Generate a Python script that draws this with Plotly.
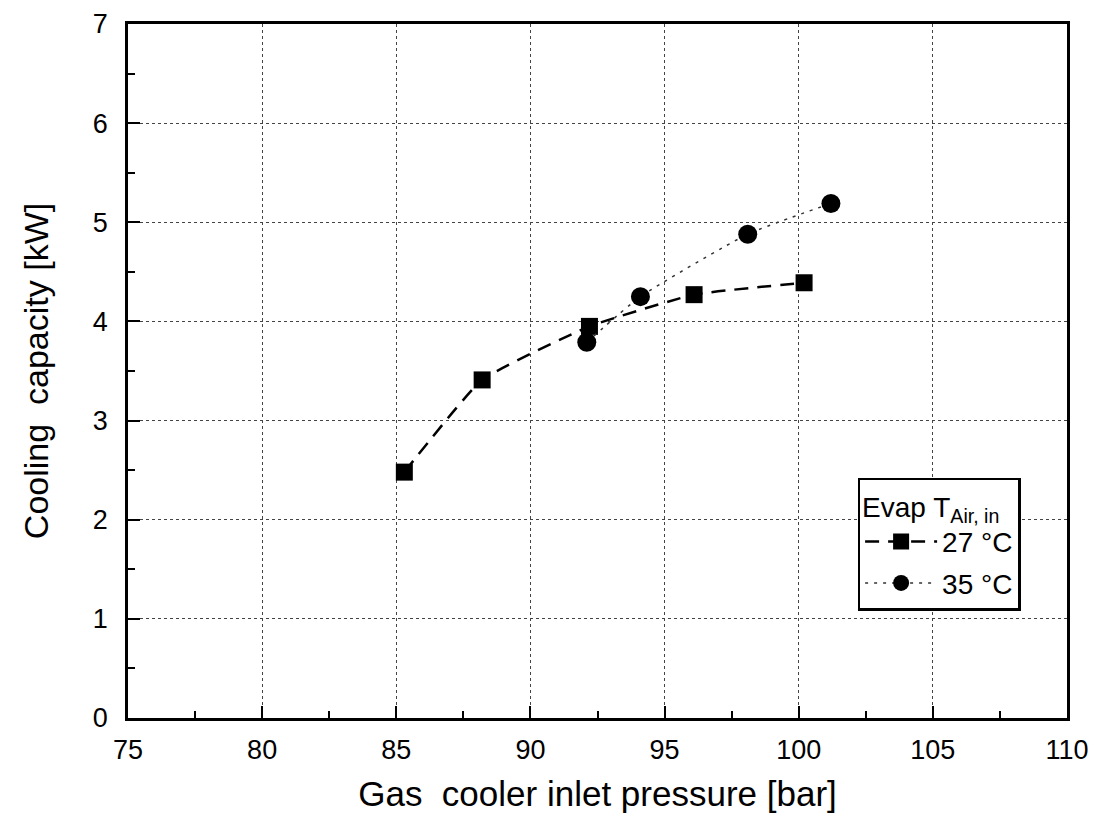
import plotly.graph_objects as go

# Data
p27 = [85.3, 88.2, 92.2, 96.1, 100.2]
q27 = [2.48, 3.41, 3.95, 4.27, 4.39]
p35 = [92.1, 94.1, 98.1, 101.2]
q35 = [3.79, 4.25, 4.88, 5.19]

x_ticks = [75, 80, 85, 90, 95, 100, 105, 110]
y_ticks = [0, 1, 2, 3, 4, 5, 6, 7]

FONT = "Liberation Sans, Arial, sans-serif"

fig = go.Figure()
fig.add_trace(go.Scatter(
    x=p27, y=q27, mode="lines+markers", name="27 \u00b0C", legendgroup="a",
    line=dict(color="black", width=2.5, dash="14px,9px", shape="spline", smoothing=0.4),
    marker=dict(symbol="square", size=17, color="black"),
))
fig.add_trace(go.Scatter(
    x=p35, y=q35, mode="lines+markers", name="35 \u00b0C", legendgroup="b",
    line=dict(color="#333", width=1.5, dash="3px,6px", shape="spline", smoothing=0.5),
    marker=dict(symbol="circle", size=19, color="black"),
))

axis_common = dict(
    showline=True, linecolor="black", linewidth=2.5, mirror=True,
    ticks="inside", ticklen=12, tickwidth=2, tickcolor="black",
    showgrid=True, gridcolor="#444", gridwidth=1.2, griddash="dot",
    zeroline=False, automargin=False,
    tickfont=dict(family=FONT, size=27, color="black"),
)

fig.update_xaxes(
    range=[75, 110], tickvals=x_ticks,
    minor=dict(ticks="inside", ticklen=7, tickwidth=1.5, tickcolor="black", dtick=2.5, tick0=75, showgrid=False),
    ticklabelstandoff=6,
    title=dict(text="Gas  cooler inlet pressure [bar]", font=dict(family=FONT, size=35, color="black"), standoff=18),
    **axis_common,
)
fig.update_yaxes(
    range=[0, 7], tickvals=y_ticks,
    minor=dict(ticks="inside", ticklen=7, tickwidth=1.5, tickcolor="black", dtick=0.5, tick0=0, showgrid=False),
    ticklabelstandoff=12,
    title=dict(text="Cooling  capacity [kW]", font=dict(family=FONT, size=34, color="black"), standoff=34),
    **axis_common,
)

fig.update_layout(
    width=1119, height=825,
    margin=dict(l=128, r=52, t=24, b=107),
    paper_bgcolor="white", plot_bgcolor="white",
    font=dict(family=FONT, color="black"),
    legend=dict(
        x=0.777, y=0.346, xanchor="left", yanchor="top",
        bgcolor="white", bordercolor="black", borderwidth=2.5,
        title=dict(text="Evap T<sub>Air, in</sub>", font=dict(family=FONT, size=28)),
        font=dict(family=FONT, size=28),
        itemwidth=72, tracegroupgap=2,
    ),
)

fig.write_html("out.html")
